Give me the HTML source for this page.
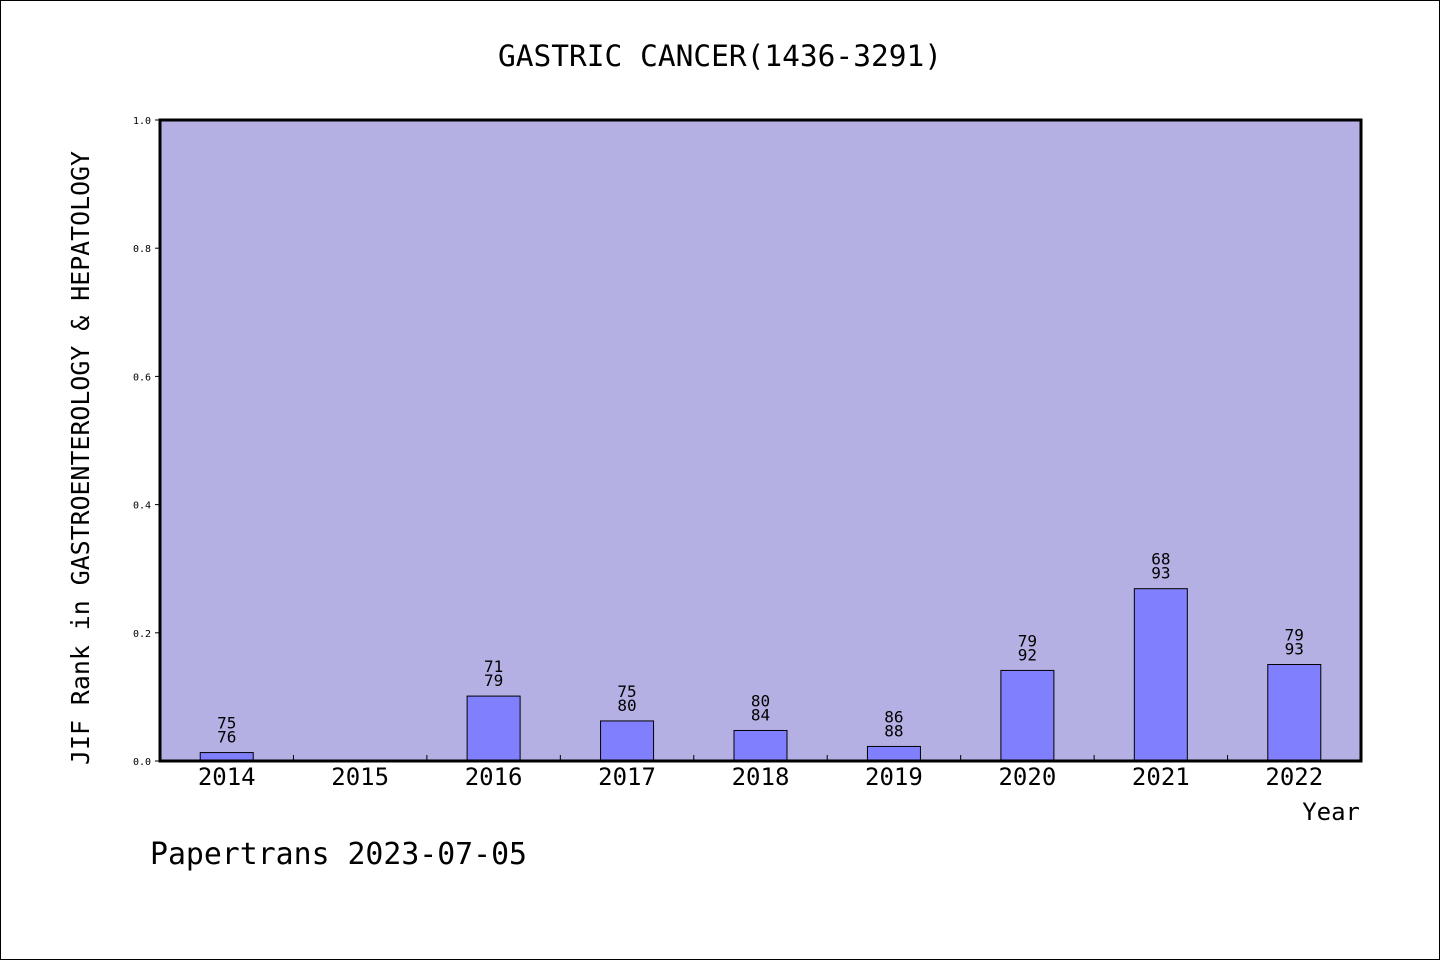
<!DOCTYPE html>
<html><head><meta charset="utf-8"><style>
html,body{margin:0;padding:0;background:#fff}
svg{display:block}
text{font-family:"DejaVu Sans Mono","Liberation Mono",monospace;fill:#000}
</style></head><body>
<svg id="chart" width="1440" height="960">
<rect x="0.5" y="0.5" width="1439" height="959" fill="#fff" stroke="#000"/>
<text x="720" y="66" text-anchor="middle" font-size="29" textLength="444" lengthAdjust="spacingAndGlyphs">GASTRIC CANCER(1436-3291)</text>
<rect x="160" y="120" width="1201" height="641" fill="#b5b0e3"/>
<g id="ticks"></g>
<g id="bars"></g>
<rect x="160" y="120" width="1201" height="641" fill="none" stroke="#000" stroke-width="3"/>
<text transform="translate(89,458) rotate(-90)" text-anchor="middle" font-size="25" textLength="614" lengthAdjust="spacingAndGlyphs">JIF Rank in GASTROENTEROLOGY &amp; HEPATOLOGY</text>
<text x="1360" y="820" text-anchor="end" font-size="24">Year</text>
<text x="150" y="864" font-size="30" textLength="377" lengthAdjust="spacingAndGlyphs">Papertrans 2023-07-05</text>
</svg>
<script>
const years=["2014","2015","2016","2017","2018","2019","2020","2021","2022"];
const ranks=[75,null,71,75,80,86,79,68,79];
const totals=[76,null,79,80,84,88,92,93,93];
const yTicks=[0,0.2,0.4,0.6,0.8,1.0];
const NS="http://www.w3.org/2000/svg";
const X0=160,X1=1361,Y0=761,Y1=120;
const bw=(X1-X0)/years.length;
function xc(i){return X0+bw*(i+0.5);}
function y(v){return Y0-(Y0-Y1)*v;}
function mk(t,a,p){const e=document.createElementNS(NS,t);for(const k in a)e.setAttribute(k,a[k]);p.appendChild(e);return e;}
const tg=document.getElementById('ticks'),bg=document.getElementById('bars');
yTicks.forEach(v=>{
 const l=mk('line',{x1:155,x2:160,y1:y(v),y2:y(v),stroke:'#000'},tg);
 
 
 const t=mk('text',{x:151,y:y(v)+4,'text-anchor':'end','font-size':10},tg);
 t.textContent=v.toFixed(1);
 
 
});
years.forEach((yr,i)=>{
 if(i>0){const l=mk('line',{x1:X0+bw*i,x2:X0+bw*i,y1:Y0,y2:Y0-6,stroke:'#000'},tg);
 
 }
 const t=mk('text',{x:xc(i),y:785,'text-anchor':'middle','font-size':24},tg);
 t.textContent=yr;
 
 
 if(ranks[i]==null)return;
 const v=1-ranks[i]/totals[i];
 const r=mk('rect',{x:xc(i)-26.5,y:y(v),width:53,height:Y0-y(v),fill:'#8080ff',stroke:'#000','stroke-width':1},bg);
 
 
 const a=mk('text',{x:xc(i),y:y(v)-24,'text-anchor':'middle','font-size':16},bg);
 a.textContent=ranks[i];
 
 
 const b=mk('text',{x:xc(i),y:y(v)-10,'text-anchor':'middle','font-size':16},bg);
 b.textContent=totals[i];
 
 
});
</script>
</body></html>
